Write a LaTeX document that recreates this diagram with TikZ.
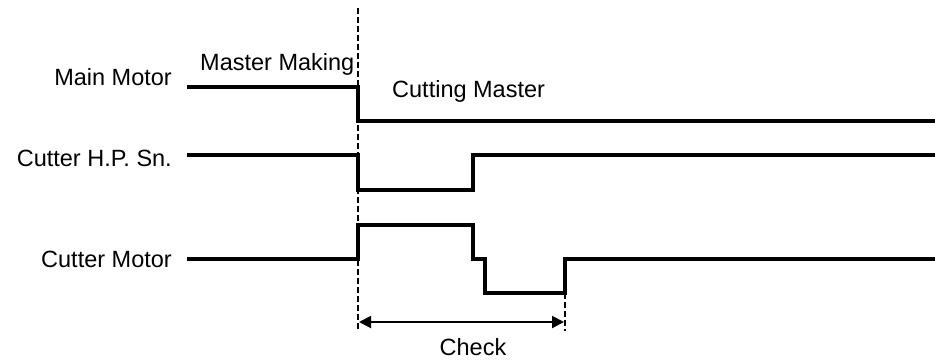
\documentclass[tikz,border=0pt]{standalone}
\usepackage{fontspec}
\setmainfont{Liberation Sans}
\usetikzlibrary{arrows.meta,positioning}

\begin{document}
\begin{tikzpicture}[x=1pt, y=-1pt,
  every node/.style={font=\fontsize{23.5}{28}\selectfont, inner sep=0pt},
  signal/.style={line width=3.3pt, line join=miter},
  marker/.style={line width=2pt, dash pattern=on 6pt off 3pt},
  lbl/.style={anchor=base east}]
\useasboundingbox (0,0) rectangle (935,360);
% signal names
\node[lbl] (mainlab) at (172,85) {Main Motor};
\node[lbl] (hplab) at (172,166) {Cutter H.P. Sn.};
\node[lbl] (motorlab) at (172,267) {Cutter Motor};
\node[anchor=base west] (making) at (200,70) {Master Making};
\node[anchor=base west] (cutting) at (392,97) {Cutting Master};
% timing markers
\draw[marker] (358,8) -- (358,331);
\draw[marker] (565,293) -- (565,331);
% waveforms
\draw[signal] (187,87) -- (358,87) -- (358,121) -- (935,121);
\draw[signal] (187,155) -- (358,155) -- (358,190) -- (473,190)
  -- (473,155) -- (935,155);
\draw[signal] (187,259) -- (358,259) -- (358,225) -- (473,225)
  -- (473,259) -- (485,259) -- (485,293) -- (565,293) -- (565,259)
  -- (935,259);
% check interval
\coordinate (chkL) at (359,322);
\coordinate (chkR) at (564,322);
\draw[line width=2pt, {Triangle[length=12pt,width=12pt]}-{Triangle[length=12pt,width=12pt]}]
  (chkL) -- (chkR);
\node[anchor=base] (check) at (473,355) {Check};
\end{tikzpicture}
\end{document}
